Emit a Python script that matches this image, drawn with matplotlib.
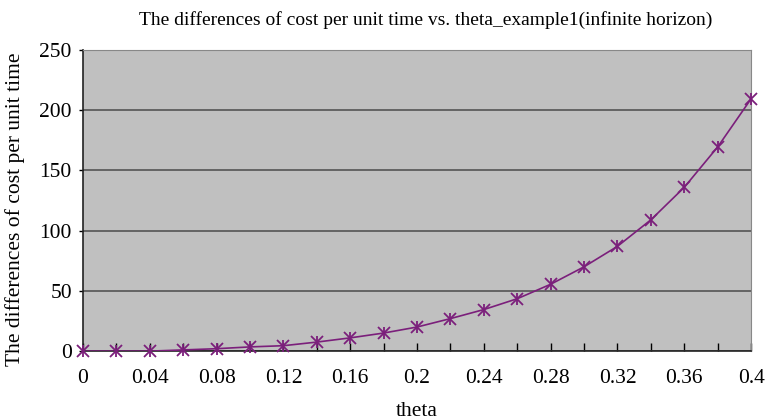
import matplotlib
matplotlib.use("Agg")
import matplotlib.pyplot as plt
import numpy as np

theta = [0, 0.02, 0.04, 0.06, 0.08, 0.10, 0.12, 0.14, 0.16, 0.18, 0.20,
         0.22, 0.24, 0.26, 0.28, 0.30, 0.32, 0.34, 0.36, 0.38, 0.40]
diff = [0, 0, 0, 1, 2, 3.5, 4.5, 7.5, 11, 15, 20,
        27, 34.5, 43.5, 55.5, 70, 87, 109, 136, 169.5, 209.5]
xtick_labels = ["0", "0.04", "0.08", "0.12", "0.16", "0.2", "0.24", "0.28", "0.32", "0.36", "0.4"]
ytick_vals = [0, 50, 100, 150, 200, 250]

plt.rcParams['font.family'] = ['Liberation Serif', 'DejaVu Serif']

fig = plt.figure(figsize=(7.68, 4.2), dpi=100)
ax = fig.add_axes([0.108, 0.164, 0.870, 0.717])
ax.set_facecolor('#c0c0c0')

color = '#7b1f7b'
ax.plot(theta, diff, color=color, lw=1.2, zorder=3)
ax.plot(theta, diff, linestyle='none', marker='x', ms=8, mew=1.3, color=color, clip_on=False, zorder=4)
ax.plot(theta, diff, linestyle='none', marker='|', ms=9, mew=1.3, color=color, clip_on=False, zorder=4)

ax.set_xlim(0, 0.4)
ax.set_ylim(0, 250)
ax.set_yticks(ytick_vals)
ax.set_yticklabels([str(v) for v in ytick_vals], fontsize=15.5)
ax.set_xticks(np.arange(0, 0.401, 0.02), minor=True)
ax.set_xticks(np.arange(0, 0.401, 0.04))
ax.set_xticklabels(xtick_labels, fontsize=15.5)

ax.yaxis.grid(True, color='#555555', lw=1.2)
ax.set_axisbelow(True)
ax.tick_params(axis='x', which='both', direction='in', length=6, width=1, pad=13)
ax.tick_params(axis='y', direction='out', length=3, width=1, pad=5)

for s in ['top', 'right']:
    ax.spines[s].set_color('#888888')
for s in ['left', 'bottom']:
    ax.spines[s].set_color('#222222')
    ax.spines[s].set_linewidth(1.2)

ax.set_xlabel('theta', fontsize=15.5, labelpad=10)
ax.set_ylabel('The differences of cost per unit time', fontsize=15.5, labelpad=6)
ax.yaxis.set_label_coords(-0.086, 0.47)
ax.set_title('The differences of cost per unit time vs. theta_example1(infinite horizon)',
             fontsize=14, pad=18, x=0.513)

fig.savefig('out.png', dpi=100)
